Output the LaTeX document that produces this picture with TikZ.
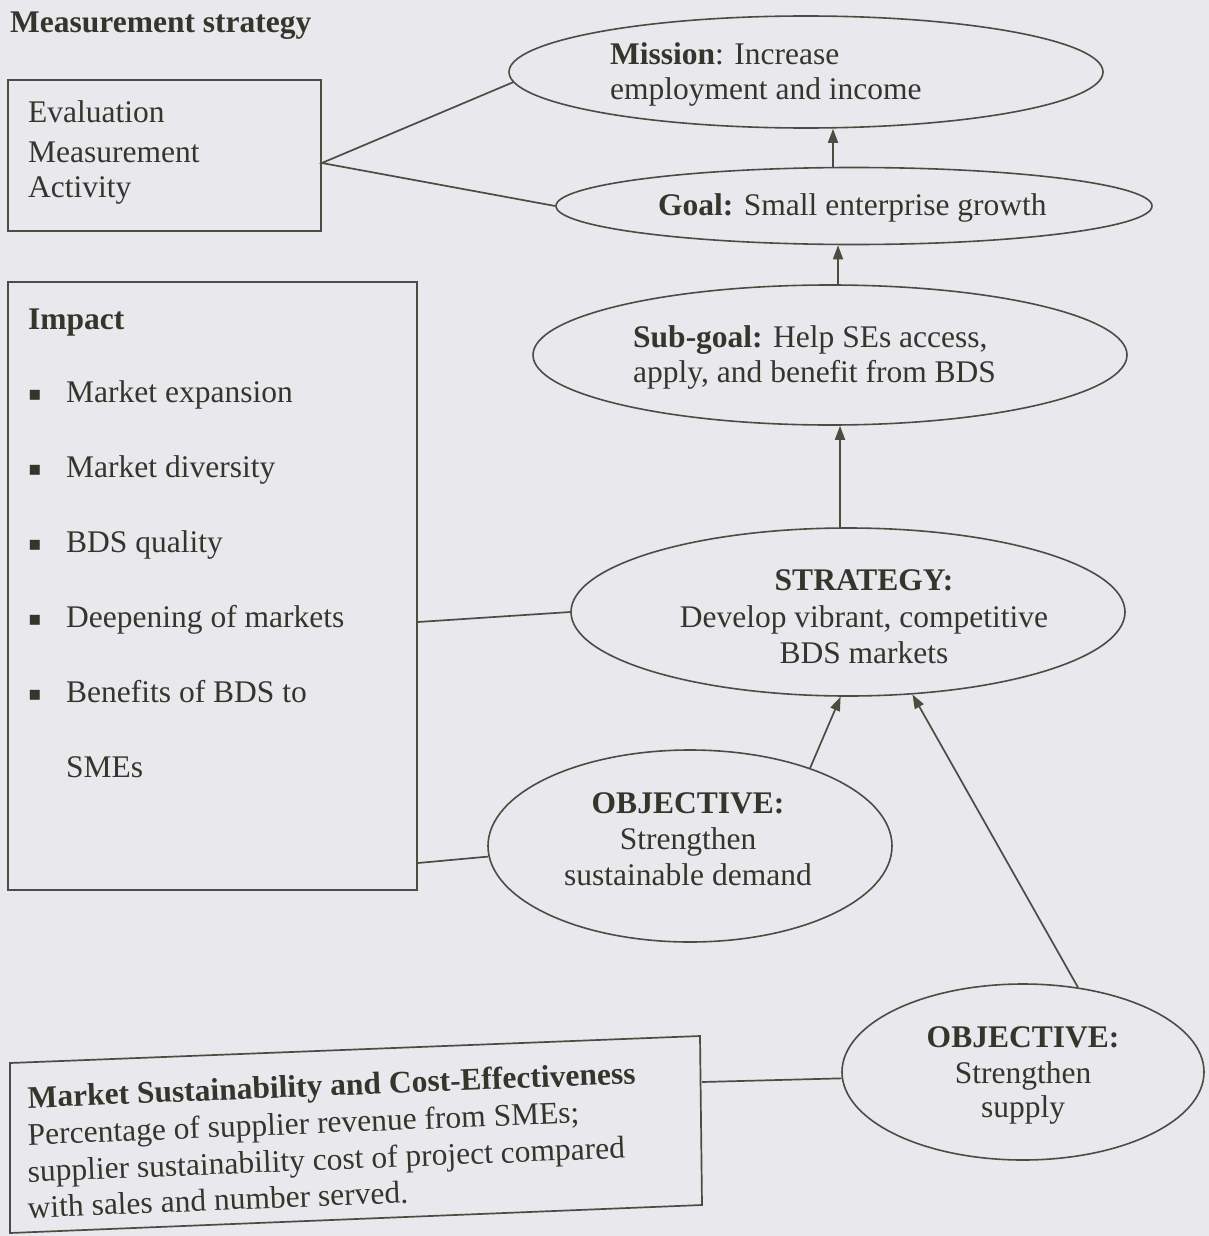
\documentclass[tikz,border=0pt]{standalone}
\usepackage{fontspec}
\setmainfont{Liberation Serif}
\newfontfamily\symfont{DejaVu Sans}
\usetikzlibrary{shapes.geometric,arrows.meta}
\definecolor{paper}{RGB}{233,232,237}
\definecolor{ink}{RGB}{52,54,44}
\definecolor{linec}{RGB}{72,78,64}
\tikzset{
  txt/.style={inner sep=0pt, anchor=base west, text=ink, font=\fontsize{31.5}{37}\selectfont},
  ctxt/.style={txt, anchor=base},
  bul/.style={inner sep=0pt, anchor=base, text=ink, font=\symfont\fontsize{20}{24}\selectfont},
  oval/.style={ellipse, draw=linec, line width=1.6pt, inner sep=0pt},
  boxn/.style={rectangle, draw=linec, line width=1.7pt, inner sep=0pt},
  conn/.style={draw=linec, line width=1.7pt},
  arr/.style={conn, -{Triangle[length=14pt,width=10pt]}},
}
\begin{document}
\begin{tikzpicture}[x=1pt,y=-1pt]
\useasboundingbox (0,0) rectangle (1209,1236);
\fill[paper] (0,0) rectangle (1209,1236);

% title
\node[txt] (title) at (10,33) {\textbf{Measurement strategy}};

% boxes
\node[boxn, minimum width=313pt, minimum height=151pt] (box1) at (164.5,155.5) {};
\node[boxn, minimum width=409pt, minimum height=608pt] (impact) at (212.5,586) {};

% ellipses
\node[oval, minimum width=594pt, minimum height=112pt] (mission) at (806,72) {};
\node[oval, minimum width=596pt, minimum height=77pt] (goal) at (854,206) {};
\node[oval, minimum width=594pt, minimum height=140pt] (subgoal) at (830,355) {};
\node[oval, minimum width=554pt, minimum height=168pt] (strategy) at (848,612) {};
\node[oval, minimum width=404pt, minimum height=192pt] (demand) at (690,846) {};
\node[oval, minimum width=362pt, minimum height=176pt] (supply) at (1023,1072) {};

% box 1 text
\node[txt] (ev1) at (28,123) {Evaluation};
\node[txt] (ev2) at (28,162) {Measurement};
\node[txt] (ev3) at (28,197) {Activity};

% ellipse texts
\node[txt] (mi1) at (610,65) {\textbf{Mission}: Increase};
\node[txt] (mi2) at (610,100) {employment and income};
\node[txt] (go1) at (658,215) {\textbf{Goal:} Small enterprise growth};
\node[txt] (sg1) at (633,347) {\textbf{Sub-goal:} Help SEs access,};
\node[txt] (sg2) at (633,382) {apply, and benefit from BDS};
\node[ctxt] (st1) at (864,590) {\textbf{STRATEGY:}};
\node[ctxt] (st2) at (864,627) {Develop vibrant, competitive};
\node[ctxt] (st3) at (864,663) {BDS markets};
\node[ctxt] (de1) at (688,813) {\textbf{OBJECTIVE:}};
\node[ctxt] (de2) at (688,849) {Strengthen};
\node[ctxt] (de3) at (688,885) {sustainable demand};
\node[ctxt] (su1) at (1023,1047) {\textbf{OBJECTIVE:}};
\node[ctxt] (su2) at (1023,1083) {Strengthen};
\node[ctxt] (su3) at (1023,1117) {supply};

% impact text
\node[txt] (imp) at (28,329) {\textbf{Impact}};
\node[bul] (b1) at (35,400) {▪}; \node[txt] (i1) at (66,402) {Market expansion};
\node[bul] (b2) at (35,475) {▪}; \node[txt] (i2) at (66,477) {Market diversity};
\node[bul] (b3) at (35,550) {▪}; \node[txt] (i3) at (66,552) {BDS quality};
\node[bul] (b4) at (35,625) {▪}; \node[txt] (i4) at (66,627) {Deepening of markets};
\node[bul] (b5) at (35,700) {▪}; \node[txt] (i5) at (66,702) {Benefits of BDS to};
\node[txt] (i6) at (66,777) {SMEs};

% bottom box
\draw[conn] (10,1063) -- (700,1036) -- (702,1205) -- (10,1233) -- cycle;
\coordinate (bbR) at (702,1082);
\node[txt, rotate=2.3] (ms1) at (28,1108) {\textbf{Market Sustainability and Cost-Effectiveness}};
\node[txt, rotate=2.3] (ms2) at (28,1145) {Percentage of supplier revenue from SMEs;};
\node[txt, rotate=2.3] (ms3) at (28,1182) {supplier sustainability cost of project compared};
\node[txt, rotate=2.3] (ms4) at (28,1218) {with sales and number served.};

% connectors
\draw[conn] (mission.182) -- ([yshift=-7.5pt]box1.east) -- (goal.west);
\draw[conn] ([yshift=-36pt]impact.east) -- (strategy.west);
\draw[conn] ([yshift=-277pt]impact.east) -- (demand.183);
\draw[conn] (bbR) -- (supply.182);

\coordinate (ax1) at (833,0);
\coordinate (ax2) at (838,0);
\coordinate (ax3) at (840,0);
\draw[arr] (goal.north -| ax1) -- (mission.south -| ax1);
\draw[arr] (subgoal.north -| ax2) -- (goal.south -| ax2);
\draw[arr] (strategy.north -| ax3) -- (subgoal.south -| ax3);
\draw[arr] (demand.33) -- (strategy.-95);
\draw[arr] (supply.57) -- (strategy.-52);
\end{tikzpicture}
\end{document}
